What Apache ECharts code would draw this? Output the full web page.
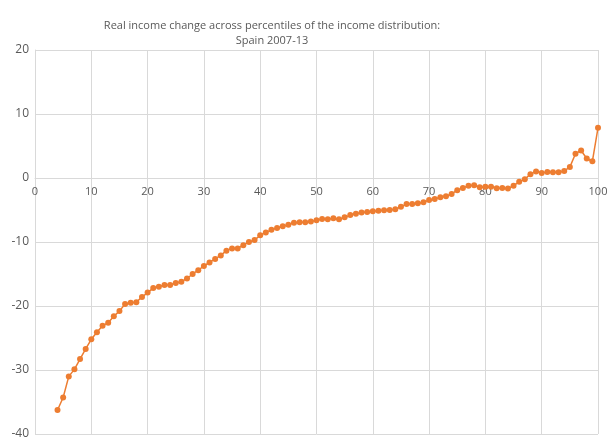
<!DOCTYPE html>
<html>
<head>
<meta charset="utf-8">
<script src="https://cdn.jsdelivr.net/npm/echarts@6/dist/echarts.min.js"></script>
<style>html,body{margin:0;padding:0;background:#fff}#c{width:616px;height:446px}</style>
</head>
<body>
<div id="c"></div>
<script>
const percentiles = [];
for (let p = 4; p <= 100; p++) percentiles.push(p);
const incomeChange = [
  -36.25, -34.3, -31.0, -29.9, -28.3, -26.7, -25.2, -24.1, -23.1, -22.6,
  -21.6, -20.8, -19.7, -19.5, -19.4, -18.6, -17.9, -17.2, -17.0, -16.7,
  -16.7, -16.4, -16.2, -15.7, -15.0, -14.4, -13.75, -13.2, -12.65, -12.1,
  -11.35, -11.0, -11.0, -10.5, -10.0, -9.7, -8.95, -8.5, -8.1, -7.8,
  -7.55, -7.3, -7.0, -6.9, -6.9, -6.8, -6.6, -6.4, -6.45, -6.3,
  -6.45, -6.15, -5.8, -5.6, -5.4, -5.3, -5.2, -5.1, -5.05, -5.0,
  -4.9, -4.5, -4.05, -4.05, -3.95, -3.8, -3.45, -3.3, -3.0, -2.85,
  -2.5, -1.9, -1.55, -1.2, -1.15, -1.45, -1.35, -1.35, -1.6, -1.55,
  -1.65, -1.2, -0.6, -0.2, 0.6, 1.0, 0.8, 0.95, 0.9, 0.9,
  1.1, 1.7, 3.8, 4.3, 3.05, 2.6, 7.85
];
const titleLine1 = 'Real income change across percentiles of the income distribution:';
const titleLine2 = 'Spain 2007-13';
const yMin = -40, yMax = 20;

const chart = echarts.init(document.getElementById('c'), null, {renderer: 'canvas'});
const font = "'Open Sans', 'Liberation Sans', sans-serif";
const titleStyle = {color: '#595959', fontSize: 11, fontWeight: 'normal', fontFamily: font};
const gridTop = 50, gridBottom = 12, H = 446;
const plotH = H - gridTop - gridBottom;
// place x axis where y = 0 (distance from top of the plot)
const zeroOffset = plotH * (yMax - 0) / (yMax - yMin);
chart.setOption({
  animation: false,
  title: [
    {text: titleLine1, left: 272, top: 20, textAlign: 'center', textStyle: titleStyle, padding: 0},
    {text: titleLine2, left: 272, top: 35, textAlign: 'center', textStyle: titleStyle, padding: 0}
  ],
  grid: {left: 35, right: 18, top: gridTop, bottom: gridBottom, containLabel: false},
  xAxis: {
    type: 'value', min: 0, max: 100, interval: 10,
    position: 'top', offset: -zeroOffset,
    axisLine: {show: true, onZero: false, lineStyle: {color: '#d9d9d9', width: 1}},
    axisTick: {show: false},
    axisLabel: {inside: true, color: '#595959', fontSize: 11, fontFamily: font, margin: 8},
    splitLine: {show: true, lineStyle: {color: '#d9d9d9', width: 1}}
  },
  yAxis: {
    type: 'value', min: yMin, max: yMax, interval: 10,
    axisLine: {show: true, onZero: false, lineStyle: {color: '#d9d9d9', width: 1}},
    axisTick: {show: false},
    axisLabel: {color: '#595959', fontSize: 12, fontFamily: font, margin: 6},
    splitLine: {show: true, lineStyle: {color: '#d9d9d9', width: 1}}
  },
  series: [{
    type: 'line',
    data: percentiles.map((p, i) => [p, incomeChange[i]]),
    symbol: 'circle', symbolSize: 6,
    itemStyle: {color: '#ED7D31'},
    lineStyle: {color: '#ED7D31', width: 1.5}
  }]
});
</script>
</body>
</html>
